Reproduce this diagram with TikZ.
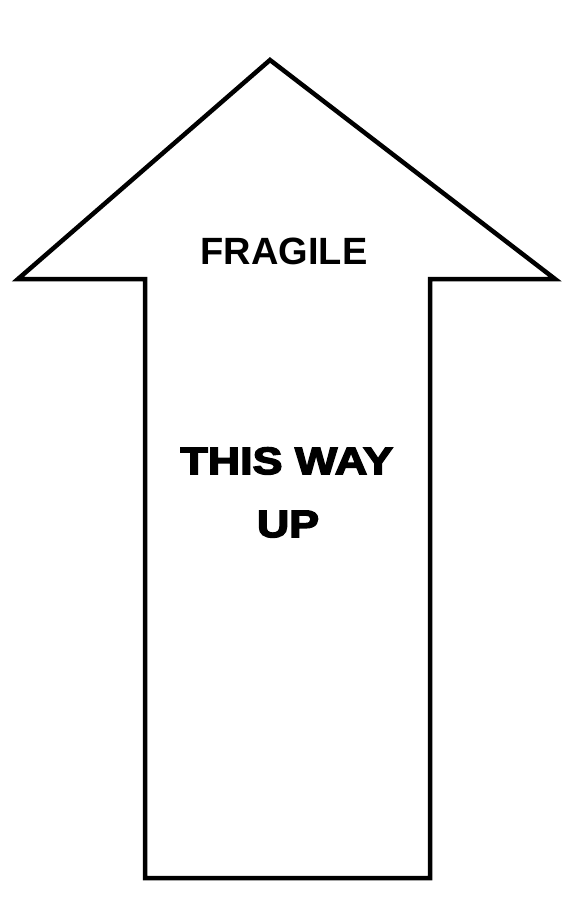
\documentclass[tikz,border=0pt]{standalone}
\usepackage{fontspec}
\setmainfont{Liberation Sans}
\newfontfamily\heavyfont[FakeBold=4,FakeStretch=1.18]{Liberation Sans Bold}
\begin{document}
\begin{tikzpicture}[x=1pt,y=-1pt,
  outline/.style={draw=black,line width=4.5pt,line join=miter},
  label/.style={inner sep=0pt,anchor=base}]
\useasboundingbox (0,0) rectangle (576,916);
\draw[outline] (145,878) -- (145,279) -- (18,279) -- (270,60) -- (555,279) -- (430,279) -- (430,878) -- cycle;
\node[label,font=\bfseries\fontsize{38}{40}\selectfont] (fragile) at (284,264) {FRAGILE};
\node[label,font=\heavyfont\fontsize{38}{40}\selectfont] (thisway) at (286.7,474) {THIS WAY};
\node[label,font=\heavyfont\fontsize{38}{40}\selectfont] (up) at (288,537) {UP};
\end{tikzpicture}
\end{document}
